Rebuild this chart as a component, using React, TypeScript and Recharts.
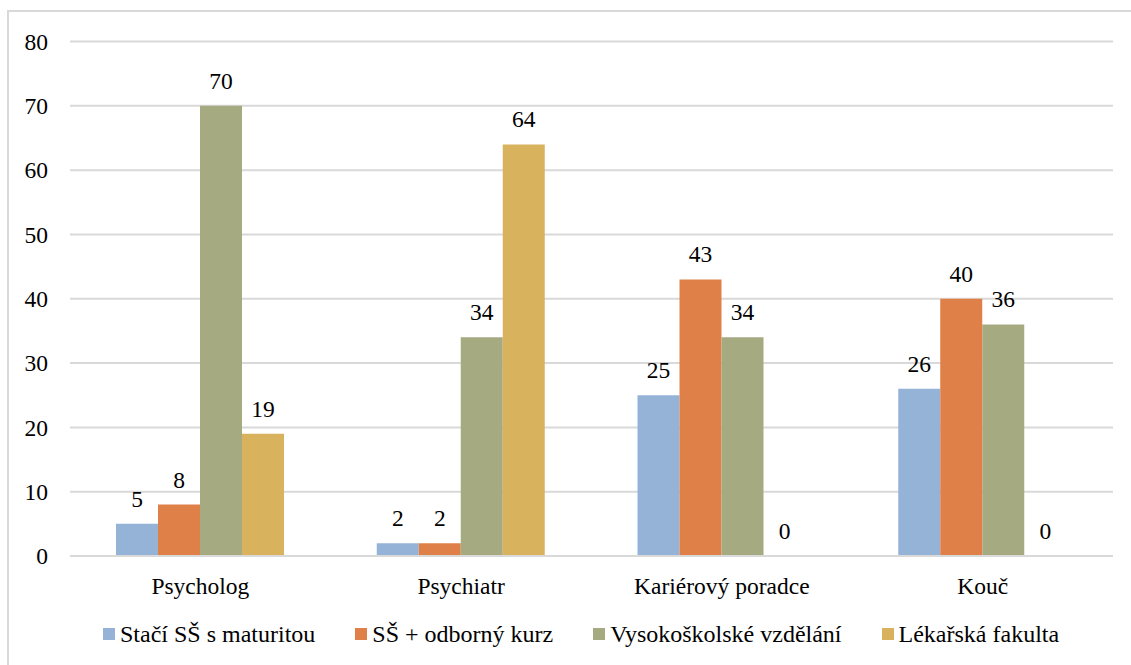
import React from "react";
import {
  BarChart,
  Bar,
  XAxis,
  YAxis,
  CartesianGrid,
  LabelList,
} from "recharts";

// Professions on the category axis
const categories = ["Psycholog", "Psychiatr", "Kariérový poradce", "Kouč"];

// One array per education requirement
const staciSS = [5, 2, 25, 26];
const ssKurz = [8, 2, 43, 40];
const vysokoskolske = [70, 34, 34, 36];
const lekarska = [19, 64, 0, 0];

const yTicks = [0, 10, 20, 30, 40, 50, 60, 70, 80];

const series = [
  { key: "staci", name: "Stačí SŠ s maturitou", color: "#95B3D7", values: staciSS },
  { key: "kurz", name: "SŠ + odborný kurz", color: "#DF8048", values: ssKurz },
  { key: "vs", name: "Vysokoškolské vzdělání", color: "#A5AA80", values: vysokoskolske },
  { key: "lf", name: "Lékařská fakulta", color: "#D8B25C", values: lekarska },
];

const data = categories.map((name, i) => {
  const row: Record<string, string | number> = { name };
  series.forEach((s) => {
    row[s.key] = s.values[i];
  });
  return row;
});

const FONT = '"Liberation Serif", "Times New Roman", serif';
const GRID = "#D9D9D9";

// Zero values still get a (practically invisible) rectangle so their label is drawn
const zeroKeepsLabel = (value: number) => (value === 0 ? 0.01 : 0);

function ChartLegend() {
  return (
    <div
      style={{
        position: "absolute",
        left: 103,
        top: 620,
        display: "flex",
        alignItems: "center",
        fontFamily: FONT,
        fontSize: 24,
        lineHeight: "28px",
        color: "#000",
        whiteSpace: "nowrap",
      }}
    >
      {series.map((s) => (
        <div
          key={s.key}
          style={{ display: "flex", alignItems: "center", marginRight: 40 }}
        >
          <span
            style={{
              display: "inline-block",
              width: 12,
              height: 12,
              background: s.color,
              marginRight: 5,
            }}
          />
          <span>{s.name}</span>
        </div>
      ))}
    </div>
  );
}

export default function App() {
  return (
    <div
      style={{
        position: "absolute",
        left: 0,
        top: 0,
        width: 1131,
        height: 665,
        overflow: "hidden",
        background: "#fff",
      }}
    >
      <div
        style={{
          position: "absolute",
          left: 7,
          top: 10,
          width: 1140,
          height: 670,
          border: `2px solid ${GRID}`,
          boxSizing: "border-box",
        }}
      />
      <div style={{ position: "absolute", left: 0, top: 0 }}>
        <BarChart
          width={1131}
          height={665}
          data={data}
          margin={{ top: 41.5, right: 18, bottom: 79, left: 0 }}
          barSize={42}
          barGap={0}
        >
          <CartesianGrid vertical={false} stroke={GRID} strokeWidth={2} />
          <XAxis
            dataKey="name"
            height={30}
            axisLine={{ stroke: GRID, strokeWidth: 2 }}
            tickLine={false}
            tickSize={0}
            tickMargin={21}
            tick={{ fill: "#000", fontSize: 23.5, fontFamily: FONT }}
            interval={0}
          />
          <YAxis
            width={70}
            domain={[0, 80]}
            ticks={yTicks}
            axisLine={false}
            tickLine={false}
            tickSize={0}
            tickMargin={22}
            tick={{ fill: "#000", fontSize: 23.5, fontFamily: FONT }}
          />
          {series.map((s) => (
            <Bar
              key={s.key}
              dataKey={s.key}
              name={s.name}
              fill={s.color}
              minPointSize={zeroKeepsLabel}
              isAnimationActive={false}
            >
              <LabelList
                dataKey={s.key}
                position="top"
                offset={17}
                fill="#000"
                fontSize={23.5}
                fontFamily={FONT}
              />
            </Bar>
          ))}
        </BarChart>
      </div>
      <ChartLegend />
    </div>
  );
}
